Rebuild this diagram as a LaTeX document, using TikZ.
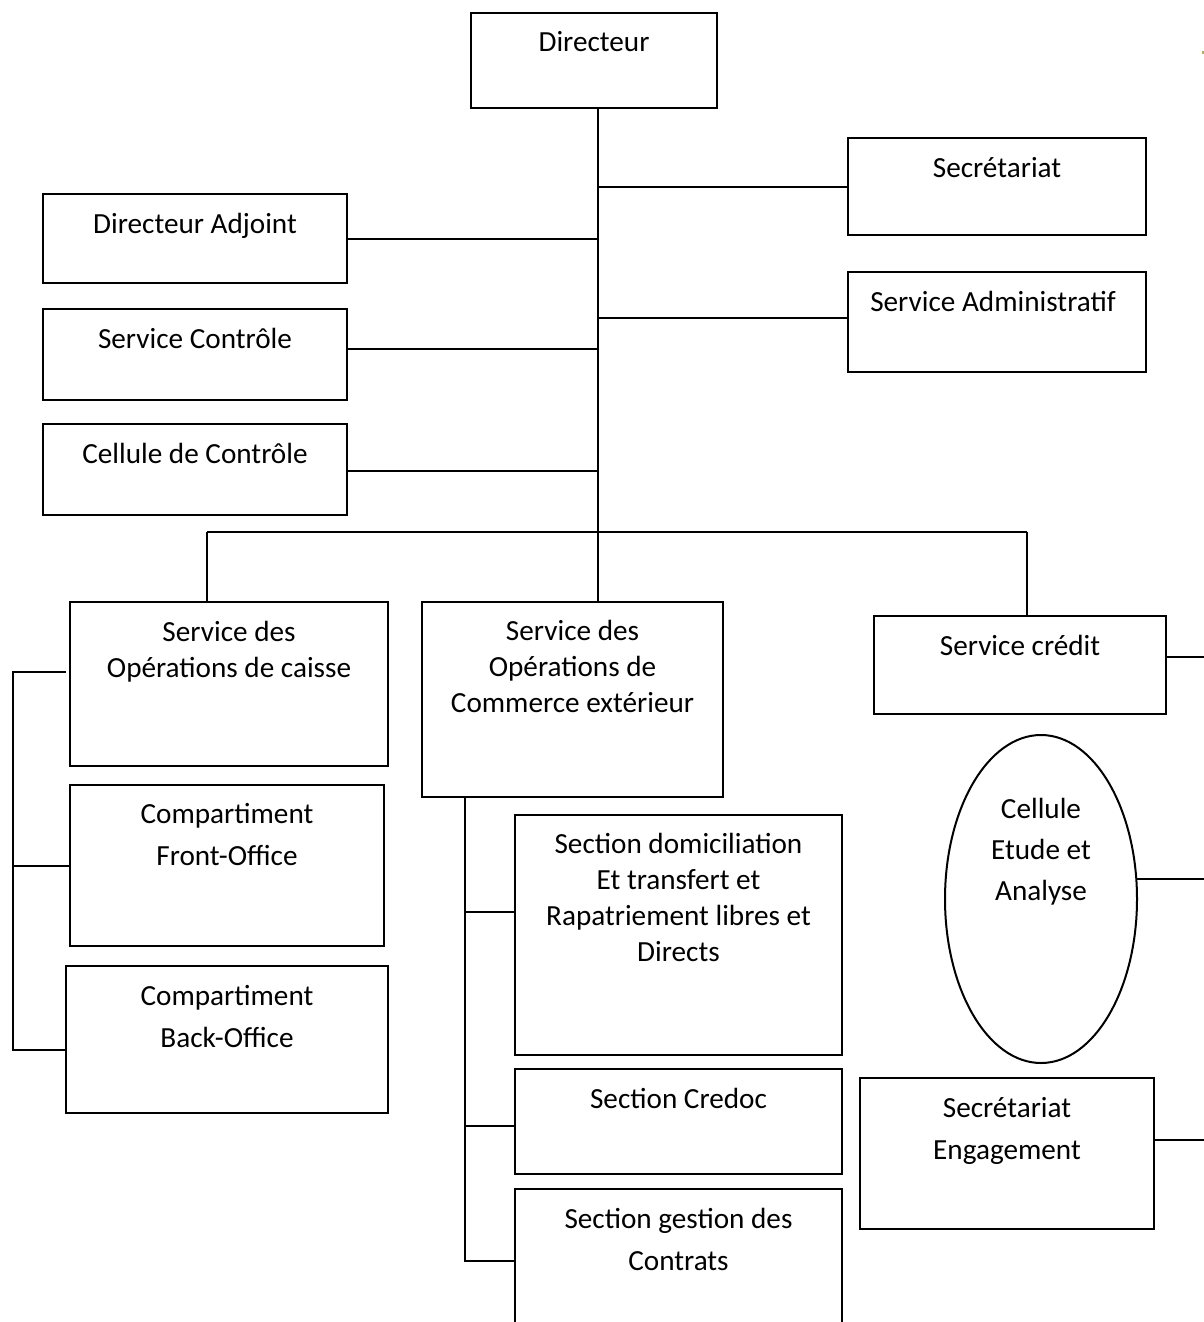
\documentclass[tikz,border=0pt]{standalone}
\usepackage{fontspec}
\setmainfont{Carlito}
\usetikzlibrary{shapes.geometric,calc}
\begin{document}
\begin{tikzpicture}[x=0.5pt,y=-0.5pt,
  box/.style={draw,line width=1pt,rectangle,inner sep=0pt},
  oval/.style={draw,line width=1pt,ellipse,inner sep=0pt},
  sz/.style 2 args={minimum width=#1*0.5pt,minimum height=#2*0.5pt},
  lbl/.style={anchor=base,align=center,inner sep=0pt,font=\fontsize{14.6}{18}\selectfont},
  lblw/.style={lbl,font=\fontsize{14.6}{21}\selectfont},
  link/.style={line width=1pt}]
\useasboundingbox (0,0) rectangle (1204,1322);
\clip (0,0) rectangle (1204,1322);

% boxes
\node[box,sz={246}{95}]  (dir)   at (594,60.5)    {};
\node[box,sz={298}{97}]  (sec)   at (997,186.5)   {};
\node[box,sz={304}{89}]  (adj)   at (195,238.5)   {};
\node[box,sz={298}{100}] (adm)   at (997,322)     {};
\node[box,sz={304}{91}]  (ctl)   at (195,354.5)   {};
\node[box,sz={304}{91}]  (cel)   at (195,469.5)   {};
\node[box,sz={318}{164}] (cai)   at (229,684)     {};
\node[box,sz={301}{195}] (com)   at (572.5,699.5) {};
\node[box,sz={292}{98}]  (cre)   at (1020,665)    {};
\node[box,sz={314}{161}] (front) at (227,865.5)   {};
\node[box,sz={322}{147}] (back)  at (227,1039.5)  {};
\node[box,sz={327}{240}] (dom)   at (678.5,935)   {};
\node[box,sz={327}{105}] (cdc)   at (678.5,1121.5){};
\node[box,sz={327}{151}] (ges)   at (678.5,1264.5){};
\node[box,sz={294}{151}] (eng)   at (1007,1153.5) {};
\node[oval,sz={192}{328}] (ell)  at (1041,899)    {};

% labels; the base anchor sits on the last line of each label
\node[lbl]  (dirT)   at ($(dir.north)+(0,40)$)    {Directeur};
\node[lbl]  (secT)   at ($(sec.north)+(0,40)$)    {Secrétariat};
\node[lbl]  (adjT)   at ($(adj.north)+(0,40)$)    {Directeur Adjoint};
\node[lbl]  (admT)   at ($(adm.north)+(-4,40)$)   {Service Administratif};
\node[lbl]  (ctlT)   at ($(ctl.north)+(0,40)$)    {Service Contrôle};
\node[lbl]  (celT)   at ($(cel.north)+(0,40)$)    {Cellule de Contrôle};
\node[lbl]  (caiT)   at ($(cai.north)+(0,76)$)    {Service des\\Opérations de caisse};
\node[lbl]  (comT)   at ($(com.north)+(0,111)$)   {Service des\\Opérations de\\Commerce extérieur};
\node[lbl]  (creT)   at ($(cre.north)+(0,40)$)    {Service crédit};
\node[lblw] (frontT) at ($(front.north)+(0,81)$)  {Compartiment\\Front-Office};
\node[lblw] (backT)  at ($(back.north)+(0,82)$)   {Compartiment\\Back-Office};
\node[lbl]  (domT)   at ($(dom.north)+(0,147)$)   {Section domiciliation\\Et transfert et\\Rapatriement libres et\\Directs};
\node[lbl]  (cdcT)   at ($(cdc.north)+(0,40)$)    {Section Credoc};
\node[lblw] (gesT)   at ($(ges.north)+(0,82)$)    {Section gestion des\\Contrats};
\node[lblw] (engT)   at ($(eng.north)+(0,82)$)    {Secrétariat\\Engagement};
\node[lblw,font=\fontsize{14.6}{20.5}\selectfont] (ellT) at ($(ell.north)+(0,166)$) {Cellule\\Etude et\\Analyse};

% trunk and branch points
\coordinate (trunk) at (598,532);
\coordinate (barL)  at (207,532);
\coordinate (barR)  at (1027,532);
\coordinate (lsp)   at (13,672);
\coordinate (msp)   at (465,797);
\coordinate (redge) at (1204,0);

\draw[link] (dir.south -| trunk) -- (com.north -| trunk);
\draw[link] (sec.west) -- (sec.west -| trunk);
\draw[link] (adj.east) -- (adj.east -| trunk);
\draw[link] ([yshift=2pt]adm.west) -- ([yshift=2pt]adm.west -| trunk);
\draw[link] ([yshift=2.75pt]ctl.east) -- ([yshift=2.75pt]ctl.east -| trunk);
\draw[link] ([yshift=-0.75pt]cel.east) -- ([yshift=-0.75pt]cel.east -| trunk);

\draw[link] (barL) -- (barR);
\draw[link] (barL) -- (barL |- cai.north);
\draw[link] (barR) -- (barR |- cre.north);

% left group
\draw[link] ([xshift=-1.5pt,yshift=6pt]cai.west) -- (lsp) |- ([xshift=-0.1pt,yshift=-5.25pt]back.west);
\draw[link] (front.west) -- (front.west -| lsp);

% middle group
\draw[link] (com.south -| msp) -- ([yshift=1.75pt]ges.west -| msp) -- ([xshift=1pt,yshift=1.75pt]ges.west);
\draw[link] ([yshift=11.5pt]dom.west) -- ([yshift=11.5pt]dom.west -| msp);
\draw[link] ([xshift=1pt,yshift=-2.25pt]cdc.west) -- ([yshift=-2.25pt]cdc.west -| msp);

% right group
\draw[link] ([yshift=4pt]cre.east) -- ([yshift=4pt]cre.east -| redge);
\draw[link] (ell.12.4) -- (ell.12.4 -| redge);
\draw[link] ([yshift=6.75pt]eng.east) -- ([yshift=6.75pt]eng.east -| redge);

% small mark at the right margin
\fill[color={rgb,255:red,176;green,176;blue,96}] (1202,51) rectangle (1204,54);
\end{tikzpicture}
\end{document}
